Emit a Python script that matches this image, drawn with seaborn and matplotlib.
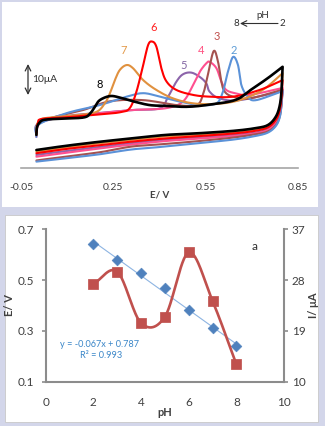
import numpy as np
import pandas as pd
import matplotlib
matplotlib.use("Agg")
import matplotlib.pyplot as plt
from matplotlib.patches import Rectangle
import seaborn as sns

# ---------------- data: cyclic voltammograms (E in V, I in uA, arbitrary offset) ----------------
rev_E = [0.797, 0.791, 0.778, 0.752, 0.71, 0.64, 0.53, 0.42, 0.31, 0.21, 0.10, 0.0]

ph8_fwd_E = [0.0, 0.002, 0.01, 0.025, 0.076, 0.152, 0.174, 0.19, 0.206, 0.239, 0.271, 0.314, 0.368, 0.423, 0.487, 0.552, 0.645, 0.696, 0.752, 0.80]
ph8_fwd_I = [11.4, 14.0, 15.6, 16.6, 17.0, 17.4, 18.7, 21.1, 23.4, 24.8, 24.3, 23.0, 21.7, 21.4, 21.1, 21.7, 23.4, 26.9, 31.0, 34.9]
ph8_rev_I = [27.4, 21.7, 17.7, 14.8, 13.7, 12.8, 12.0, 11.4, 10.2, 9.1, 7.7, 6.2]

ph7_fwd_E = [0.0, 0.002, 0.012, 0.028, 0.076, 0.141, 0.196, 0.223, 0.239, 0.255, 0.271, 0.293, 0.314, 0.347, 0.390, 0.444, 0.509, 0.585, 0.660, 0.735, 0.80]
ph7_fwd_I = [11.4, 14.8, 16.6, 17.2, 17.7, 18.3, 19.4, 22.4, 25.8, 30.3, 33.8, 35.5, 34.4, 30.3, 26.9, 24.0, 22.3, 22.1, 23.4, 26.9, 32.7]
ph7_rev_I = [26.2, 20.7, 17.2, 14.5, 13.3, 12.2, 11.4, 10.9, 9.7, 8.6, 7.1, 5.6]

ph6_fwd_E = [0.0, 0.005, 0.017, 0.098, 0.206, 0.271, 0.303, 0.325, 0.347, 0.363, 0.376, 0.390, 0.406, 0.423, 0.455, 0.509, 0.563, 0.639, 0.725, 0.80]
ph6_fwd_I = [12.1, 15.5, 16.9, 17.5, 18.5, 19.2, 20.6, 26.3, 35.5, 42.4, 43.6, 41.8, 34.4, 29.8, 26.9, 25.2, 24.6, 24.6, 26.9, 30.3]
ph6_rev_I = [24.8, 20.0, 16.6, 14.0, 12.8, 11.9, 11.0, 10.2, 9.1, 7.9, 6.6, 5.1]

ph5_fwd_E = [0.0, 0.005, 0.098, 0.206, 0.314, 0.401, 0.428, 0.455, 0.476, 0.503, 0.531, 0.552, 0.563, 0.595, 0.660, 0.80]
ph5_fwd_I = [11.4, 15.2, 17.9, 19.0, 20.0, 20.6, 24.6, 29.8, 32.3, 32.9, 31.4, 29.2, 26.3, 24.0, 23.4, 26.5]
ph5_rev_I = [23.4, 19.0, 15.9, 13.4, 12.2, 11.4, 10.5, 9.8, 8.6, 7.3, 5.9, 4.5]

ph4_fwd_E = [0.0, 0.005, 0.028, 0.098, 0.206, 0.314, 0.420, 0.476, 0.509, 0.531, 0.552, 0.563, 0.585, 0.601, 0.617, 0.650, 0.693, 0.80]
ph4_fwd_I = [10.7, 14.8, 16.9, 17.7, 18.9, 20.0, 20.6, 22.9, 28.6, 33.2, 36.1, 36.6, 34.4, 29.8, 26.9, 25.7, 25.2, 27.6]
ph4_rev_I = [23.1, 18.6, 15.5, 13.1, 11.9, 11.0, 10.2, 9.3, 8.1, 6.8, 5.3, 3.9]

ph3_fwd_E = [0.0, 0.005, 0.044, 0.152, 0.239, 0.347, 0.455, 0.520, 0.541, 0.557, 0.576, 0.590, 0.601, 0.612, 0.639, 0.693, 0.80]
ph3_fwd_I = [11.4, 15.5, 17.2, 20.0, 23.0, 23.4, 21.7, 21.7, 25.2, 32.1, 40.3, 36.7, 29.8, 26.3, 24.6, 24.0, 27.0]
ph3_rev_I = [22.4, 17.9, 14.8, 12.6, 11.6, 10.5, 9.3, 8.3, 7.4, 5.5, 4.0, 2.6]

ph2_fwd_E = [0.0, 0.005, 0.098, 0.206, 0.293, 0.347, 0.401, 0.466, 0.531, 0.585, 0.606, 0.622, 0.639, 0.655, 0.666, 0.687, 0.714, 0.80]
ph2_fwd_I = [10.7, 14.8, 18.9, 21.7, 24.6, 25.8, 24.6, 22.9, 21.7, 22.3, 26.3, 33.1, 38.3, 35.5, 28.6, 24.6, 23.4, 26.5]
ph2_rev_I = [22.1, 17.6, 14.5, 12.2, 11.0, 9.8, 8.6, 7.4, 6.4, 4.8, 3.4, 2.2]

cv_labels = ["5", "4", "3", "2", "7", "6", "8"]
cv_colors = ["#8c64aa", "#ff4f8f", "#a5524f", "#5b92d8", "#e0913f", "#ff0000", "#000000"]
label_colors = ["#8064a2", "#ff5080", "#c0504d", "#5b9bd5", "#e39a4a", "#ff2020", "#000000"]
label_E = [0.477, 0.534, 0.587, 0.640, 0.282, 0.382, 0.206]
label_I = [33.5, 38.5, 43.5, 38.5, 38.5, 46.5, 27.0]

top_ticks = [-0.05, 0.25, 0.55, 0.85]
top_tick_labels = ["-0.05", "0.25", "0.55", "0.85"]

# ---------------- data: pH dependence ----------------
pH = [2, 3, 4, 5, 6, 7, 8]
Ep = [0.641, 0.579, 0.529, 0.470, 0.381, 0.310, 0.242]
Ip = [27.3, 29.5, 20.4, 21.5, 32.9, 24.3, 13.1]
left_ticks = [0.1, 0.3, 0.5, 0.7]
right_ticks = [10, 19, 28, 37]
x_ticks = [0, 2, 4, 6, 8, 10]


def smooth(x, y, n=16):
    P = np.column_stack([x, y]).astype(float)
    if len(P) < 3:
        return P[:, 0], P[:, 1]
    Pp = np.vstack([2 * P[0] - P[1], P, 2 * P[-1] - P[-2]])
    t = np.linspace(0, 1, n + 1)[1:]
    out = [P[0]]
    for i in range(1, len(Pp) - 2):
        p0, p1, p2, p3 = Pp[i - 1], Pp[i], Pp[i + 1], Pp[i + 2]
        c1 = p1 + (p2 - p0) / 6.0
        c2 = p2 - (p3 - p1) / 6.0
        seg = (((1 - t) ** 3)[:, None] * p1 + (3 * (1 - t) ** 2 * t)[:, None] * c1
               + (3 * (1 - t) * t ** 2)[:, None] * c2 + (t ** 3)[:, None] * p2)
        out.extend(seg)
    out = np.array(out)
    return out[:, 0], out[:, 1]


sns.set_style("white")
plt.rcParams['font.family'] = ['Lato', 'DejaVu Sans']

W, H = 325, 426
fig = plt.figure(figsize=(W / 100, H / 100), dpi=100)
fig.patch.set_facecolor("#d3d6ea")
fig.patches.append(Rectangle((2 / W, 1 - 207 / H), 316 / W, 205 / H, transform=fig.transFigure,
                             facecolor="white", edgecolor="none", zorder=-5))
fig.patches.append(Rectangle((5 / W, 1 - 422 / H), 313 / W, 207 / H, transform=fig.transFigure,
                             facecolor="white", edgecolor="#c8c8c8", linewidth=0.6, zorder=-5))

tick_col = "#404040"
axis_col = "#8c8c8c"


def fx(px):
    return px / W


def fy(py):
    return 1 - py / H


# ---------------- top panel ----------------
ax = fig.add_axes([21 / W, 1 - 168 / H, 277 / W, 166 / H])
ax.set_facecolor("none")
curves = [
    (ph5_fwd_E, ph5_fwd_I, ph5_rev_I),
    (ph4_fwd_E, ph4_fwd_I, ph4_rev_I),
    (ph3_fwd_E, ph3_fwd_I, ph3_rev_I),
    (ph2_fwd_E, ph2_fwd_I, ph2_rev_I),
    (ph7_fwd_E, ph7_fwd_I, ph7_rev_I),
    (ph6_fwd_E, ph6_fwd_I, ph6_rev_I),
    (ph8_fwd_E, ph8_fwd_I, ph8_rev_I),
]
for k, ((fE, fI, rI), col) in enumerate(zip(curves, cv_colors)):
    xf, yf = smooth(fE, fI)
    xr, yr = smooth([fE[-1]] + rev_E, [fI[-1]] + rI)
    xs = np.concatenate([xf, xr[1:]])
    ys = np.concatenate([yf, yr[1:]])
    df = pd.DataFrame({"E": xs, "I": ys})
    lw = 1.9 if col == "#000000" else 1.5
    sns.lineplot(data=df, x="E", y="I", sort=False, estimator=None, color=col, lw=lw, ax=ax,
                 zorder=3 + k)
for lab, c, e, i in zip(cv_labels, label_colors, label_E, label_I):
    ax.text(e, i, lab, color=c, fontsize=8, ha="center", va="bottom")

ax.set_xlim(-0.05, 0.85)
ax.set_ylim(0, 166 / 2.9)
ax.set_yticks([])
for s in ["left", "right", "top"]:
    ax.spines[s].set_visible(False)
ax.spines["bottom"].set_color("#a6a6a6")
ax.spines["bottom"].set_linewidth(1.2)
ax.set_xticks(top_ticks)
ax.set_xticklabels(top_tick_labels)
ax.tick_params(axis="x", direction="out", length=3, width=1, color="#a6a6a6", labelsize=7.5,
               labelcolor=tick_col, pad=8)
ax.set_xlabel("E/ V", fontsize=7, fontweight="bold", color=tick_col, labelpad=-1)
ax.set_ylabel("")

# scale bar and pH arrow (figure pixel coordinates)
ax.annotate("", xy=(fx(28), fy(64)), xytext=(fx(28), fy(95)), xycoords="figure fraction",
            textcoords="figure fraction",
            arrowprops=dict(arrowstyle="<->", color="#303030", lw=0.9, shrinkA=0, shrinkB=0))
fig.text(fx(32), fy(80), "10μA", fontsize=7.5, color="#303030", va="center", ha="left")
fig.text(fx(263), fy(15), "pH", fontsize=7, color="#303030", ha="center", va="center")
ax.annotate("", xy=(fx(240), fy(23.5)), xytext=(fx(278), fy(23.5)), xycoords="figure fraction",
            textcoords="figure fraction",
            arrowprops=dict(arrowstyle="->", color="#303030", lw=0.8, shrinkA=0, shrinkB=0))
fig.text(fx(236.5), fy(23.5), "8", fontsize=7, color="#303030", ha="center", va="center")
fig.text(fx(282.5), fy(23.5), "2", fontsize=7, color="#303030", ha="center", va="center")

# ---------------- bottom panel ----------------
ax2 = fig.add_axes([45.7 / W, 1 - 381.7 / H, 238.3 / W, 152.4 / H])
ax2.set_facecolor("none")
ax3 = ax2.twinx()

coef = np.polyfit(pH, Ep, 1)
fit_y = np.polyval(coef, [pH[0], pH[-1]])
sns.lineplot(x=[pH[0], pH[-1]], y=fit_y, color="#8db4e2", lw=0.8, ax=ax2, zorder=2)
sns.scatterplot(x=pH, y=Ep, marker="D", s=30, color="#4f81bd", edgecolor="#4f81bd", ax=ax2,
                zorder=3)

xs, ys = smooth(pH, Ip, n=30)
sns.lineplot(x=xs, y=ys, sort=False, estimator=None, color="#c0504d", lw=1.9, ax=ax3, zorder=2)
sns.scatterplot(x=pH, y=Ip, marker="s", s=42, color="#c0504d", edgecolor="#c0504d", ax=ax3,
                zorder=3)

ax2.set_xlim(0, 10)
ax2.set_ylim(0.1, 0.7)
ax3.set_ylim(10, 37)
ax2.set_xticks(x_ticks)
ax2.set_yticks(left_ticks)
ax2.set_yticklabels([f"{v:.1f}" for v in left_ticks])
ax3.set_yticks(right_ticks)
for a in (ax2, ax3):
    for s in a.spines.values():
        s.set_visible(False)
ax2.spines["left"].set_visible(True)
ax2.spines["bottom"].set_visible(True)
ax3.spines["right"].set_visible(True)
for s in [ax2.spines["left"], ax2.spines["bottom"], ax3.spines["right"]]:
    s.set_color(axis_col)
    s.set_linewidth(1.5)
ax2.tick_params(direction="out", length=3, width=1.2, color=axis_col, labelsize=8.5,
                labelcolor=tick_col, pad=5)
ax2.tick_params(axis="x", pad=8)
ax3.tick_params(direction="out", length=3, width=1.2, color=axis_col, labelsize=8.5,
                labelcolor=tick_col, pad=2.5)
ax2.set_xlabel("pH", fontsize=8, fontweight="bold", color=tick_col, labelpad=-1)
ax2.set_ylabel("E/ V", fontsize=8, fontweight="bold", color=tick_col, labelpad=2)
ax3.set_ylabel("I/ μA", fontsize=8, fontweight="bold", color=tick_col, rotation=90, labelpad=2)
ax2.grid(False)
ax3.grid(False)

fig.text(fx(255), fy(246), "a", fontsize=8.5, color="#303030", ha="center", va="center")
fig.text(fx(99), fy(344.5), "y = -0.067x + 0.787", fontsize=6.6, color="#3a86c8", ha="center",
         va="center")
fig.text(fx(101), fy(356), "R² = 0.993", fontsize=6.6, color="#3a86c8", ha="center", va="center")

fig.savefig("out.png", dpi=100, facecolor=fig.get_facecolor())
